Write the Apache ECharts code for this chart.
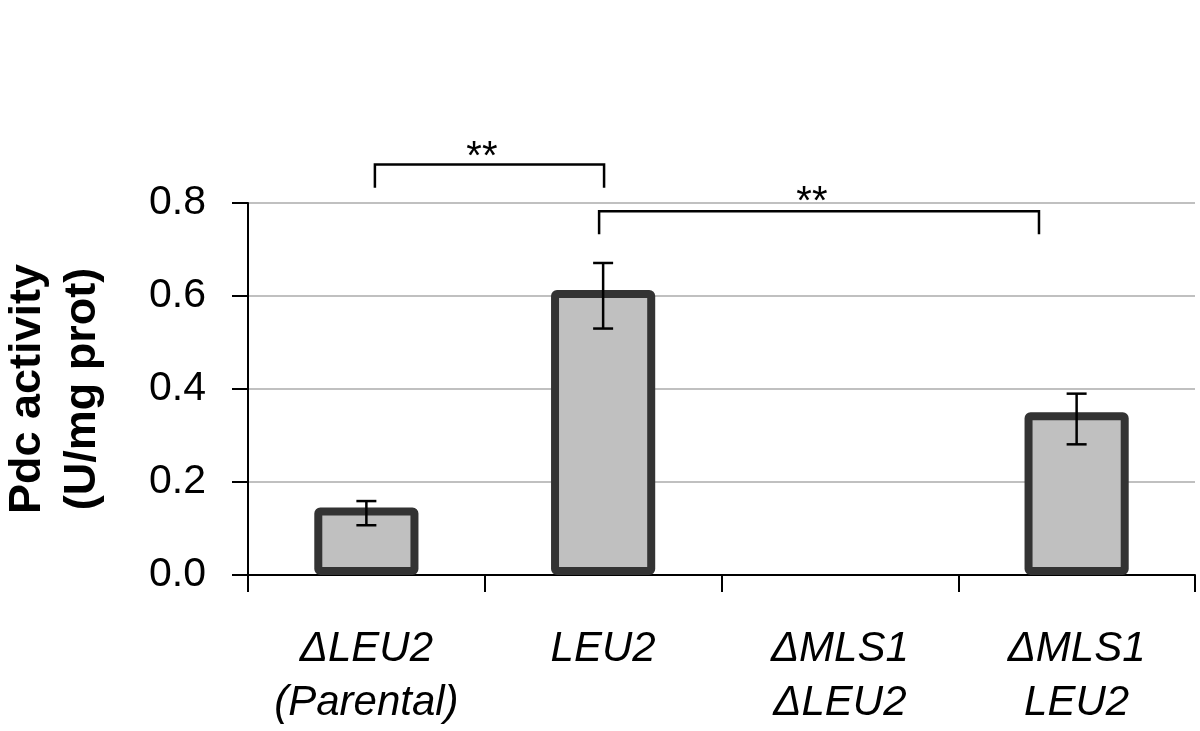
<!DOCTYPE html>
<html>
<head>
<meta charset="utf-8">
<script src="https://cdn.jsdelivr.net/npm/echarts@6/dist/echarts.min.js"></script>
<style>
html, body { margin: 0; padding: 0; background: #fff; }
#chart { width: 1200px; height: 731px; }
</style>
</head>
<body>
<div id="chart"></div>
<script>
// strains (x axis)
const strains = ['ΔLEU2\n(Parental)', 'LEU2', 'ΔMLS1\nΔLEU2', 'ΔMLS1\nLEU2'];
// Pdc activity, U/mg prot
const activity = [0.145, 0.613, 0, 0.35];
// error bar ends
const errLow = [0.107, 0.530, 0, 0.281];
const errHigh = [0.159, 0.671, 0, 0.390];
// y axis range
const yMin = 0;
const yMax = 0.8;
const yStep = 0.2;
// significance brackets: [from strain, to strain, bar level, leg end]
const brackets = [
  [0.036, 1.004, 0.883, 0.833],
  [0.983, 2.841, 0.782, 0.733],
];
// stars above the brackets: [x, y, text]
const stars = [
  [0.488, 0.897, '**'],
  [1.882, 0.801, '**'],
];

const font = '"Liberation Sans", Arial, Helvetica, sans-serif';
const chart = echarts.init(document.getElementById('chart'));

const option = {
  animation: false,
  grid: { left: 248, right: 5, top: 203, bottom: 156, outerBoundsMode: 'none' },
  xAxis: [
    {
      type: 'category',
      data: strains,
      axisLine: { lineStyle: { color: '#000', width: 2 } },
      axisTick: { show: true, length: 17, lineStyle: { color: '#000', width: 2 } },
      axisLabel: {
        margin: 47,
        color: '#000',
        fontFamily: font,
        fontStyle: 'italic',
        fontSize: 42,
        lineHeight: 54,
        interval: 0,
      },
    },
    {
      // hidden linear axis on top of the categories, for the annotations
      type: 'value',
      min: -0.5,
      max: strains.length - 0.5,
      show: false,
    },
  ],
  yAxis: {
    type: 'value',
    min: yMin,
    max: yMax,
    interval: yStep,
    name: 'Pdc activity\n(U/mg prot)',
    nameLocation: 'middle',
    nameRotate: 90,
    nameGap: 138,
    nameTextStyle: {
      color: '#000',
      fontFamily: font,
      fontWeight: 'bold',
      fontSize: 45,
      lineHeight: 55,
    },
    axisLine: { show: true, onZero: false, lineStyle: { color: '#000', width: 2 } },
    axisTick: { show: true, length: 16, lineStyle: { color: '#000', width: 2 } },
    axisLabel: {
      margin: 42,
      color: '#000',
      fontFamily: font,
      fontSize: 41,
      formatter: (v) => v.toFixed(1),
    },
    splitLine: { lineStyle: { color: '#c0c0c0', width: 2 } },
  },
  series: [
    {
      type: 'bar',
      xAxisIndex: 0,
      barWidth: '44%',
      data: activity.map((v) => ({
        value: v,
        itemStyle: v === 0 ? { borderWidth: 0 } : undefined,
      })),
      itemStyle: {
        color: '#c0c0c0',
        borderColor: '#333333',
        borderWidth: 8,
        borderRadius: 2,
      },
    },
    {
      // error bars
      type: 'custom',
      xAxisIndex: 1,
      z: 10,
      data: activity.map((v, i) => [i, errLow[i], errHigh[i]]),
      renderItem: (params, api) => {
        const x = api.value(0);
        const lo = api.value(1);
        const hi = api.value(2);
        if (hi <= lo) return;
        const top = api.coord([x, hi]);
        const bot = api.coord([x, lo]);
        const st = { stroke: '#000', lineWidth: 2.5 };
        return {
          type: 'group',
          children: [
            { type: 'line', shape: { x1: top[0], y1: top[1], x2: bot[0], y2: bot[1] }, style: st },
            { type: 'line', shape: { x1: top[0] - 10, y1: top[1], x2: top[0] + 10, y2: top[1] }, style: st },
            { type: 'line', shape: { x1: bot[0] - 10, y1: bot[1], x2: bot[0] + 10, y2: bot[1] }, style: st },
          ],
        };
      },
    },
    {
      // significance brackets
      type: 'custom',
      xAxisIndex: 1,
      z: 10,
      clip: false,
      data: brackets,
      renderItem: (params, api) => {
        const a = api.coord([api.value(0), api.value(3)]);
        const b = api.coord([api.value(0), api.value(2)]);
        const c = api.coord([api.value(1), api.value(2)]);
        const d = api.coord([api.value(1), api.value(3)]);
        return {
          type: 'polyline',
          shape: { points: [a, b, c, d] },
          style: { stroke: '#000', lineWidth: 2.5, fill: null },
        };
      },
    },
    {
      // stars
      type: 'custom',
      xAxisIndex: 1,
      z: 10,
      clip: false,
      data: stars.map((s) => [s[0], s[1]]),
      renderItem: (params, api) => {
        const p = api.coord([api.value(0), api.value(1)]);
        return {
          type: 'text',
          x: p[0],
          y: p[1],
          style: {
            text: stars[params.dataIndex][2],
            fill: '#000',
            fontFamily: font,
            fontSize: 40,
            align: 'center',
            verticalAlign: 'middle',
          },
        };
      },
    },
  ],
};

chart.setOption(option);
</script>
</body>
</html>
